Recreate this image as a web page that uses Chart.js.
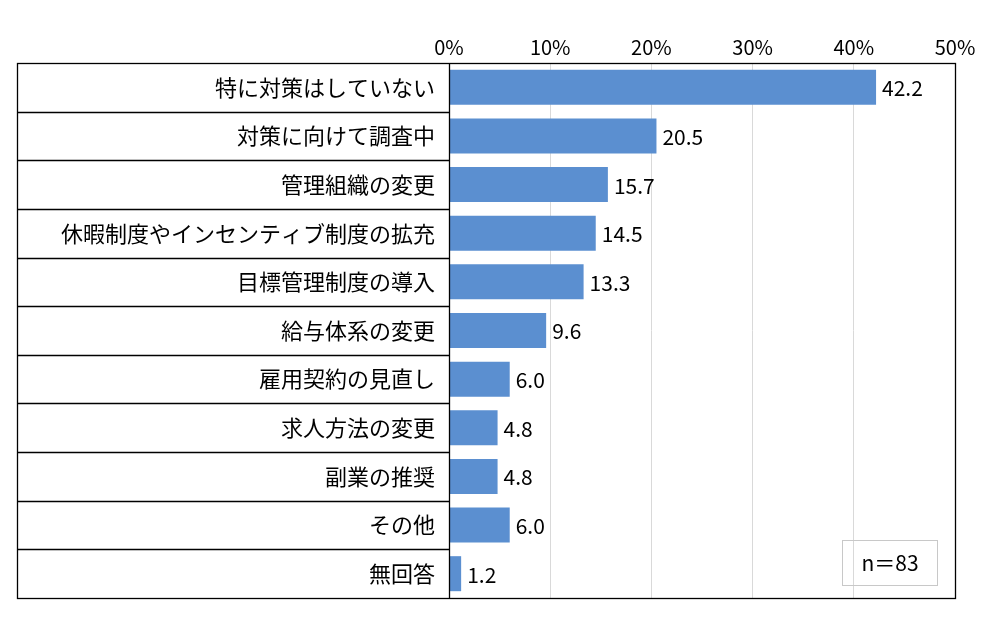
<!DOCTYPE html>
<html><head><meta charset="utf-8">
<script src="https://cdn.jsdelivr.net/npm/chart.js@4"></script>
<style>body{margin:0;background:#fff}#wrap{width:1000px;height:632px}</style>
</head><body><div id="wrap"><canvas id="c"></canvas></div>
<script>
const categories = ['特に対策はしていない','対策に向けて調査中','管理組織の変更','休暇制度やインセンティブ制度の拡充','目標管理制度の導入','給与体系の変更','雇用契約の見直し','求人方法の変更','副業の推奨','その他','無回答'];
const values = [42.2, 20.5, 15.7, 14.5, 13.3, 9.6, 6.0, 4.8, 4.8, 6.0, 1.2];
const xTicks = [0, 10, 20, 30, 40, 50];
const FONT = '"Noto Sans CJK JP", "Noto Sans", sans-serif';

const frame = {
  id: 'frame',
  afterDraw(ch) {
    const { ctx, chartArea: a } = ch;
    const left = 17;
    ctx.save();
    ctx.strokeStyle = '#000';
    ctx.lineWidth = 1.3;
    const step = (a.bottom - a.top) / categories.length;
    for (let i = 1; i < categories.length; i++) {
      const yy = Math.round(a.top + step * i) + 0.5;
      ctx.beginPath(); ctx.moveTo(left, yy); ctx.lineTo(a.left, yy); ctx.stroke();
    }
    ctx.strokeRect(left + 0.5, a.top + 0.5, a.right - left, a.bottom - a.top);
    ctx.beginPath(); ctx.moveTo(a.left + 0.5, a.top); ctx.lineTo(a.left + 0.5, a.bottom); ctx.stroke();
    // value labels
    ctx.fillStyle = '#000';
    ctx.font = '21px ' + FONT;
    ctx.textBaseline = 'middle';
    const meta = ch.getDatasetMeta(0);
    meta.data.forEach((b, i) => ctx.fillText(values[i].toFixed(1), b.x + 6, b.y + 1));
    // n box
    ctx.strokeStyle = '#c8c8c8'; ctx.lineWidth = 1;
    ctx.strokeRect(842.5, 540.5, 95, 45);
    ctx.textAlign = 'center';
    ctx.fillText('n＝83', 890, 563);
    ctx.restore();
  }
};

new Chart(document.getElementById('c'), {
  type: 'bar',
  data: { labels: categories, datasets: [{ data: values, backgroundColor: '#5b8fd0', barPercentage: 0.72, categoryPercentage: 1 }] },
  options: {
    indexAxis: 'y', responsive: true, maintainAspectRatio: false, animation: false,
    layout: { padding: { left: 17, right: 45, top: 31, bottom: 34 } },
    plugins: { legend: { display: false }, tooltip: { enabled: false } },
    scales: {
      x: {
        position: 'top', min: 0, max: 50,
        afterBuildTicks: s => { s.ticks = xTicks.map(v => ({ value: v })); },
        ticks: { color: '#000', font: { size: 20, family: FONT }, padding: 4, callback: v => v + '%' },
        grid: { color: '#d9d9d9', drawTicks: false }, border: { display: false }
      },
      y: {
        afterFit: s => { s.width = 432; },
        ticks: { color: '#000', font: { size: 22, family: FONT }, padding: 6 },
        grid: { display: false }, border: { display: false }
      }
    }
  },
  plugins: [frame]
});
</script></body></html>
